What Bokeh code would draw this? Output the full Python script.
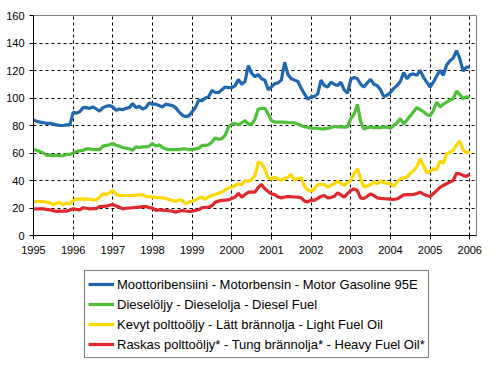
from bokeh.plotting import figure
from bokeh.models import FixedTicker, Legend, LegendItem, Range1d
from bokeh.layouts import column
from bokeh.embed import file_html
from bokeh.resources import INLINE

start_year = 1995
year_ticks = list(range(1995, 2007))
y_ticks = list(range(0, 161, 20))

gasoline = [
    84, 83, 82.5, 82, 81.5, 81.5, 81, 80.5, 80, 80, 80.5, 80.5,
    89.5, 89, 90, 93, 93, 92.5, 93.5, 92, 90.5, 93, 94, 94.5,
    93.5, 91, 92, 91.5, 92.5, 93, 96, 93, 94, 92, 93, 96.5,
    95.5, 95.5, 94.5, 93.5, 95.5, 95, 94.5, 93, 90, 87.5, 86.5, 87,
    90, 93, 98.5, 98, 100, 101, 105.5, 104, 104, 106, 108, 107.5,
    107.5, 109, 113.5, 110, 112, 123.5, 118, 115.5, 117, 114, 113, 106,
    108, 110.5, 111, 113, 126, 117, 114, 113, 112, 107, 103, 99,
    101, 101, 103, 113, 109, 108, 111.5, 110, 109, 111.5, 106, 103.5,
    113.5, 115, 114, 110, 108, 111, 113.5, 110, 109, 106, 101, 102,
    104, 107, 109, 112, 118.5, 114, 117, 117.5, 116.5, 120, 115, 111.5,
    108, 111.5, 116, 120, 116.5, 124, 127, 129, 134.5, 128.5, 119.5, 122.5, 122.5,
]

diesel = [
    62.5, 62, 61, 60, 58.5, 58.5, 58, 58.5, 58, 58, 59, 59,
    60, 61, 61.5, 62, 63, 63, 62.5, 62.5, 62.5, 65, 65.5, 66,
    67, 65.5, 65, 64, 63.5, 63, 62, 64.5, 64, 64.5, 64.5, 65,
    67, 65, 66, 64, 63, 62.5, 62.5, 62.5, 62.5, 63, 63, 62.5,
    62.5, 63, 63.5, 65.5, 65.5, 66, 68, 71, 70, 70.5, 73, 79,
    81, 81.5, 80.5, 82, 83.5, 81, 81, 84.5, 92, 92.5, 92.5, 88.5,
    83.5, 82.5, 82.5, 82.5, 82.5, 82, 82, 82, 81, 80, 79, 78.8,
    78, 78, 78, 77.5, 77.5, 78, 78.5, 79.3, 79, 79, 78.8, 79,
    85, 88, 95.5, 82.5, 77.5, 78.5, 79, 78.5, 78.5, 78.5, 79, 78.8,
    78, 80, 82, 85, 81, 84, 87, 90, 93, 91.5, 90, 88,
    87, 91, 97, 93.5, 95.5, 97, 98.5, 99.5, 105, 102.5, 99.5, 101, 100,
]

light_fuel = [
    24.7, 24.7, 24.7, 24.7, 24.2, 23.7, 22.5, 23.5, 23.9, 22.3, 23.5, 23,
    25.3, 26.5, 26.7, 26.4, 26.4, 26.4, 25.9, 25.9, 27.9, 30.3, 29.8, 31,
    32.7, 30, 29.1, 29.1, 29.1, 29.1, 29.1, 29.3, 29.5, 29.8, 28.4, 28.2,
    27.9, 27.7, 27.6, 27.4, 27, 26.2, 25.5, 24.7, 25.9, 25.5, 23, 24.2,
    25, 25.9, 27.2, 27.9, 26.4, 28, 29.1, 29.8, 30.8, 31.5, 33.2, 34.5,
    35.2, 36.4, 37.6, 37, 39.8, 39.6, 40.5, 43.6, 53.3, 52.6, 48, 42,
    41, 42.4, 41, 40, 41.5, 42.4, 44.4, 40, 41.5, 42, 36, 33,
    32.2, 34, 37.1, 37.1, 37.1, 35.2, 36.5, 37.6, 39.6, 38, 36.4, 38.5,
    40, 45, 48.5, 41.2, 35.2, 36, 37.1, 38.8, 37.6, 39.6, 38.5, 38.1,
    37.6, 35.6, 39, 41.2, 42, 42.4, 45, 47.3, 50, 55.8, 50.9, 45.3,
    47, 48.5, 47.8, 54.1, 52.6, 59.4, 60.5, 62, 66, 68.6, 62.3, 59.9, 61.3,
]

heavy_fuel = [
    19.4, 19.4, 19.4, 19.4, 19, 18.7, 18, 17.5, 17.7, 17.7, 17.7, 18.5,
    19.4, 19, 18.7, 20.2, 19.8, 19.4, 19.5, 19.6, 21.1, 21.2, 21.3, 22,
    22.5, 21.5, 20.5, 19.4, 19.8, 20, 20.2, 20.4, 20.6, 21, 21.1, 20.3,
    19.9, 18.2, 18.7, 18.5, 18.2, 18, 17.7, 17, 17.6, 18.2, 17.8, 17.5,
    17.7, 18.2, 18.7, 20.2, 20.4, 20.6, 21.8, 24.2, 25, 25.5, 25.7, 25.9,
    26.9, 27.9, 30.8, 27.9, 29.8, 31.5, 31.5, 31.5, 35, 37.1, 34, 32,
    30.3, 29.8, 28, 27.4, 28, 28.4, 28.2, 28, 27.9, 27.4, 25, 24.5,
    25.9, 25.5, 27, 28.5, 29.1, 27.4, 27.6, 28.5, 31, 29.5, 27.9, 30.5,
    32.7, 33.9, 32.7, 27.2, 27, 28.5, 30.3, 29, 27.4, 27, 26.8, 26.7,
    26.4, 26.2, 26.7, 28, 29.6, 29.7, 29.7, 29.8, 30.5, 31.5, 30, 29.1,
    28.4, 30.5, 32.7, 35, 36.4, 37.6, 38.8, 40, 45.3, 44.8, 43.7, 43, 44.4,
]

labels = [
    "Moottoribensiini - Motorbensin - Motor Gasoline 95E",
    "Dieselöljy - Dieselolja - Diesel Fuel",
    "Kevyt polttoöljy - Lätt brännolja - Light Fuel Oil",
    "Raskas polttoöljy* - Tung brännolja* - Heavy Fuel Oil*",
]
colors = ["#1f68b0", "#4fbf3a", "#ffd800", "#e0282c"]
series_list = [gasoline, diesel, light_fuel, heavy_fuel]

x = [start_year + i / 12 for i in range(len(gasoline))]

FONT = "Liberation Sans"

p = figure(
    width=497, height=262,
    output_backend="svg", toolbar_location=None,
    x_range=Range1d(1995, 2006.17), y_range=Range1d(0, 160),
    min_border_left=33, min_border_right=21, min_border_top=15, min_border_bottom=27,
    background_fill_color="white", border_fill_color="white",
)
p.outline_line_color = "#808080"
p.outline_line_width = 1

for series, col in zip(series_list, colors):
    p.line(x, series, line_color=col, line_width=3.2)

for ax in (p.xaxis[0], p.yaxis[0]):
    ax.axis_line_color = "black"
    ax.axis_line_width = 1
    ax.major_tick_line_color = "black"
    ax.major_tick_in = 0
    ax.major_tick_out = 4
    ax.minor_tick_line_color = None
    ax.major_label_text_font = FONT
    ax.major_label_text_font_size = "11px"
    ax.major_label_text_color = "black"

p.xaxis.ticker = FixedTicker(ticks=year_ticks)
p.yaxis.ticker = FixedTicker(ticks=y_ticks)
p.xaxis.major_label_standoff = 6
p.yaxis.major_label_standoff = 5

for g in (p.xgrid[0], p.ygrid[0]):
    g.grid_line_color = "black"
    g.grid_line_dash = "3 3"
    g.grid_line_width = 1
p.xgrid.ticker = FixedTicker(ticks=year_ticks)
p.ygrid.ticker = FixedTicker(ticks=y_ticks)

# legend panel below the chart (same series, drawn outside its view so only the legend shows)
q = figure(
    width=497, height=98,
    output_backend="svg", toolbar_location=None,
    x_range=Range1d(0, 1), y_range=Range1d(0, 1),
    x_axis_location=None, y_axis_location=None,
    min_border=0,
    background_fill_color="white", border_fill_color="white",
)
q.grid.visible = False
q.outline_line_color = None

legend_renderers = []
for series, col in zip(series_list, colors):
    legend_renderers.append(q.line(x, series, line_color=col, line_width=3.2))

legend = Legend(
    items=[LegendItem(label=l, renderers=[r]) for l, r in zip(labels, legend_renderers)],
    location=(51, 2),
    orientation="vertical",
    border_line_color="black",
    border_line_width=1,
    background_fill_color="white",
    background_fill_alpha=1,
    label_text_font=FONT,
    label_text_font_size="13px",
    label_text_color="black",
    glyph_width=26,
    glyph_height=20,
    label_height=20,
    label_standoff=3,
    spacing=0,
    padding=3,
    margin=0,
)
q.add_layout(legend, "center")

layout = column(p, q, spacing=0)
open("out.html", "w").write(file_html(layout, INLINE))
